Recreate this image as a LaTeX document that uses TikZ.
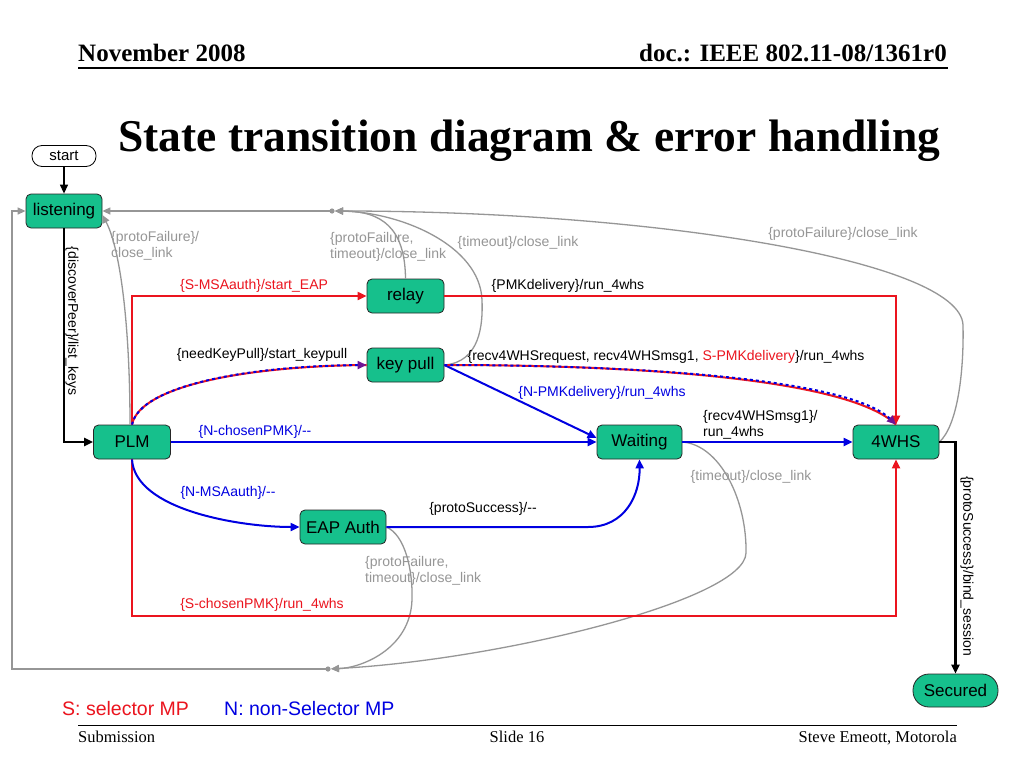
\documentclass[tikz,border=0pt]{standalone}
\usepackage{fontspec}
\setmainfont{Liberation Serif}
\setsansfont{Liberation Sans}
\usetikzlibrary{arrows.meta}
\definecolor{stgreen}{RGB}{22,192,140}
\definecolor{lgray}{RGB}{150,150,150}
\definecolor{ered}{RGB}{235,20,30}
\definecolor{eblue}{RGB}{0,0,225}
\definecolor{epurple}{RGB}{110,20,150}
\begin{document}
\begin{tikzpicture}[x=1pt,y=-1pt,
 state/.style={draw=black!85, line width=0.8pt, fill=stgreen, rounded corners=5pt, minimum height=34pt, inner sep=0pt, font=\fontsize{17}{20}\selectfont\sffamily},
 lbl/.style={font=\fontsize{14}{16}\selectfont\sffamily, inner sep=0pt, align=left},
 glbl/.style={lbl, text=lgray},
 rlbl/.style={lbl, text=ered},
 blbl/.style={lbl, text=eblue},
 redge/.style={draw=ered, line width=2pt, -{Triangle[length=9pt,width=8pt]}},
 bedge/.style={draw=eblue, line width=2pt, -{Triangle[length=9pt,width=8pt]}},
 gedge/.style={draw=lgray, line width=1.3pt, -{Triangle[length=8pt,width=7pt]}},
 kedge/.style={draw=black, line width=2.2pt, -{Triangle[length=9pt,width=8pt]}},
 hdr/.style={font=\fontsize{25}{28}\selectfont\bfseries, inner sep=0pt},
 ftr/.style={font=\fontsize{16.5}{19}\selectfont, inner sep=0pt},
]
\fill[white] (0,0) rectangle (1024,768);
\useasboundingbox (0,0) rectangle (1024,768);

% header / footer
\node[hdr, anchor=base west] (hl) at (78,61) {November 2008};
\node[hdr, anchor=base east] (hr) at (947,61) {doc.: IEEE 802.11-08/1361r0};
\draw[line width=1.5pt] (78,68) -- (948,68);
\node[anchor=base west, inner sep=0pt, font=\fontsize{45.5}{50}\selectfont\bfseries] (title) at (118,151) {State transition diagram \& error handling};
\draw[line width=1pt] (78,725) -- (957,725);
\node[ftr, anchor=base west] (f1) at (78,742) {Submission};
\node[ftr, anchor=base] (f2) at (517,742) {Slide 16};
\node[ftr, anchor=base east] (f3) at (957,742) {Steve Emeott, Motorola};

% states
\node[draw=black, line width=0.8pt, fill=white, rounded corners=10pt, minimum width=64pt, minimum height=21pt, inner sep=0pt, font=\fontsize{15}{18}\selectfont\sffamily] (start) at (64,156) {start};
\node[state, minimum width=76pt] (listening) at (64,211) {listening};
\node[state, minimum width=77pt] (PLM) at (132,442) {PLM};
\node[state, minimum width=77pt] (relay) at (405.5,296) {relay};
\node[state, minimum width=77pt] (keypull) at (405.5,365) {key pull};
\node[state, minimum width=85pt] (waiting) at (639.5,442) {Waiting};
\node[state, minimum width=86pt] (fourwhs) at (896,442) {4WHS};
\node[state, minimum width=86pt] (eap) at (343,527) {EAP Auth};
\node[state, minimum width=85pt, minimum height=33pt, rounded corners=16pt] (secured) at (955.5,690.5) {Secured};

% junctions
\coordinate (topj) at (332,211);
\coordinate (botj) at (328,669);
\coordinate (lc) at (12,669);

% gray error transitions
\draw[gedge] (topj) -- (listening.east);
\draw[gedge] (botj) -- (lc) |- (listening.west);
\draw[gedge] ([xshift=-2pt]PLM.north) .. controls (130,330) and (121,250) .. ([yshift=-4pt]listening.east);
\draw[gedge, shorten >=3pt] (relay.north) .. controls (405,228) and (382,211) .. (topj);
\draw[gedge, shorten >=3pt] (keypull.east) .. controls (480,362) and (483,325) .. (482,300) .. controls (480,245) and (400,212) .. (topj);
\draw[gedge, shorten >=3pt] (fourwhs.east) .. controls (958,425) and (964,370) .. (963,325) .. controls (960,260) and (650,211) .. (topj);
\draw[gedge, shorten >=3pt] (eap.east) .. controls (405,535) and (413,570) .. (412,600) .. controls (410,650) and (360,668) .. (botj);
\draw[gedge, shorten >=3pt] (waiting.east) .. controls (720,445) and (747,500) .. (746,553) .. controls (745,600) and (500,660) .. (botj);
\fill[lgray] (topj) circle (2.6pt);
\fill[lgray] (botj) circle (2.6pt);

% black transitions
\draw[kedge, line width=1.3pt] (start) -- (listening);
\draw[kedge] (listening.south) |- (PLM.west);
\draw[kedge] (fourwhs.east) -| (secured.north);

% red transitions
\draw[redge] (PLM.north) |- (relay.west);
\draw[redge] (relay.east) -| (fourwhs.north);
\draw[redge] (PLM.south) -- ++(0,157) -| (fourwhs.south);

% blue transitions
\draw[bedge] (PLM.east) -- (waiting.west);
\draw[bedge] (keypull.east) -- ([yshift=4pt]waiting.west);
\draw[bedge] (waiting.east) -- (fourwhs.west);
\draw[bedge] (PLM.south) .. controls (135,510) and (240,527) .. (eap.west);
\draw[bedge] (eap.east) -- (588,527) .. controls (625,527) and (640,495) .. (waiting.south);

% mixed (red + blue dashed)
\draw[draw=ered, line width=2pt] (PLM.north) .. controls (140,385) and (250,366) .. (keypull.west);
\draw[draw=eblue, line width=2pt, dash pattern=on 3pt off 3pt, -{Triangle[length=9pt,width=8pt,color=epurple]}] (PLM.north) .. controls (140,385) and (250,366) .. (keypull.west);
\draw[draw=ered, line width=2pt] (keypull.east) .. controls (650,365) and (850,380) .. (fourwhs.north);
\draw[draw=eblue, line width=2pt, dash pattern=on 3pt off 3pt, -{Triangle[length=9pt,width=8pt,color=epurple]}] (keypull.east) .. controls (650,365) and (850,380) .. (fourwhs.north);

% labels
\node[lbl, rotate=-90] (l1) at (72,321) {\{discoverPeer\}/list\_keys};
\node[lbl, rotate=-90] (l2) at (967,566) {\{protoSuccess\}/bind\_session};
\node[rlbl] (l3) at (254,286) {\{S-MSAauth\}/start\_EAP};
\node[lbl] (l4) at (568,286) {\{PMKdelivery\}/run\_4whs};
\node[lbl] (l5) at (262,355) {\{needKeyPull\}/start\_keypull};
\node[lbl] (l6) at (666,357) {\{recv4WHSrequest, recv4WHSmsg1, \textcolor{ered}{S-PMKdelivery}\}/run\_4whs};
\node[blbl] (l7) at (602,393) {\{N-PMKdelivery\}/run\_4whs};
\node[blbl] (l8) at (255,432) {\{N-chosenPMK\}/-{}-};
\node[lbl, anchor=west] (l9) at (703,425) {\{recv4WHSmsg1\}/\\run\_4whs};
\node[blbl] (l10) at (228,493) {\{N-MSAauth\}/-{}-};
\node[lbl] (l11) at (483,509) {\{protoSuccess\}/-{}-};
\node[rlbl] (l12) at (262,605) {\{S-chosenPMK\}/run\_4whs};
\node[glbl, anchor=west] (g1) at (111,246) {\{protoFailure\}/\\close\_link};
\node[glbl, anchor=west] (g2) at (330,247) {\{protoFailure,\\timeout\}/close\_link};
\node[glbl] (g3) at (518,243) {\{timeout\}/close\_link};
\node[glbl] (g4) at (843,234) {\{protoFailure\}/close\_link};
\node[glbl] (g5) at (751,477) {\{timeout\}/close\_link};
\node[glbl, anchor=west] (g6) at (365,571) {\{protoFailure,\\timeout\}/close\_link};

% legend
\node[anchor=west, inner sep=0pt, text=ered, font=\fontsize{19.5}{22}\selectfont\sffamily] (s) at (62,709) {S: selector MP};
\node[anchor=west, inner sep=0pt, text=eblue, font=\fontsize{19.5}{22}\selectfont\sffamily] (n) at (224,709) {N: non-Selector MP};
\end{tikzpicture}
\end{document}
